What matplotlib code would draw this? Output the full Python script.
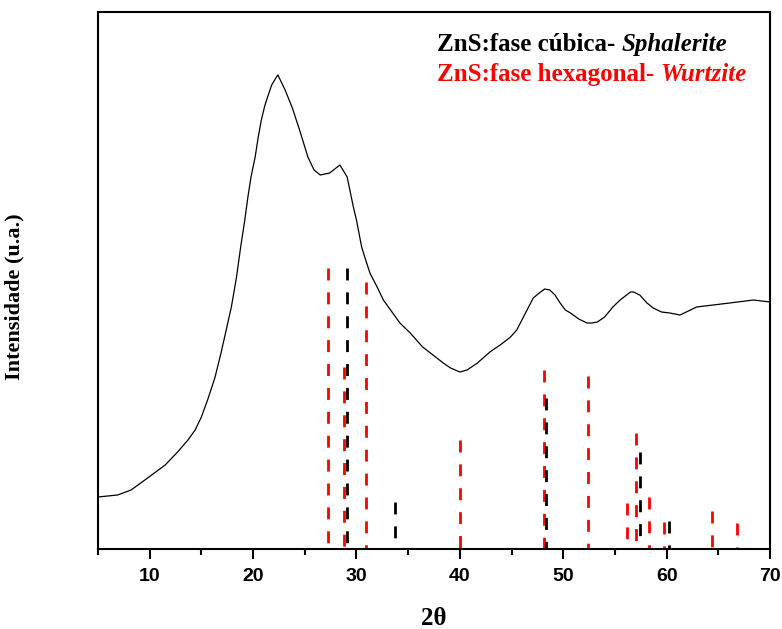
import numpy as np
import matplotlib.pyplot as plt

# XRD pattern (2theta, intensity in arbitrary units)
two_theta = [5.0, 6.9, 8.2, 9.8, 11.5, 12.7, 13.7, 14.4, 15.0, 15.6, 16.3, 16.9,
             17.4, 17.9, 18.4, 18.8, 19.2, 19.5, 19.8, 20.2, 20.5, 20.8, 21.1,
             21.4, 21.8, 22.2, 22.4, 23.1, 23.8, 24.5, 25.3, 25.9, 26.5, 27.4,
             28.4, 29.1, 29.7, 30.0, 30.5, 30.8, 31.3, 32.0, 32.6, 33.3, 34.2,
             35.2, 36.4, 37.4, 38.4, 39.1, 40.0, 40.7, 41.7, 42.9, 43.9, 44.9,
             45.5, 46.0, 46.5, 47.1, 47.8, 48.2, 48.7, 49.2, 49.7, 50.2, 50.7,
             51.5, 52.3, 52.8, 53.3, 54.0, 54.8, 55.5, 56.5, 56.8, 57.4, 58.1,
             58.7, 59.5, 60.3, 61.3, 61.9, 62.9, 64.5, 66.1, 68.4, 70.0]
intensity = [52, 54, 59, 71, 84, 97, 109, 119, 132, 149, 171, 196,
             219, 242, 272, 302, 329, 352, 372, 392, 412, 429, 442,
             452, 464, 471, 474, 459, 441, 419, 392, 379, 374, 376,
             384, 372, 342, 329, 302, 292, 276, 262, 249, 239, 226,
             216, 202, 194, 186, 181, 177, 179, 186, 197, 204, 212,
             219, 229, 239, 251, 257, 260, 259, 254, 246, 239, 236,
             230, 226, 226, 227, 232, 242, 249, 257, 257, 254, 246,
             241, 237, 236, 234, 237, 242, 244, 246, 249, 247]

# reference stick patterns
cubic_pos = [29.06, 33.7, 48.33, 57.4, 60.2]
cubic_h = [281, 47, 151, 97, 28]
hex_pos = [27.2, 28.83, 30.9, 40.0, 48.14, 52.37, 56.2, 57.07, 58.3, 59.7, 64.36, 66.84]
hex_h = [281, 182, 267, 109, 179, 173, 46, 116, 52, 27, 38, 26]

xticks = [10, 20, 30, 40, 50, 60, 70]

fig = plt.figure(figsize=(7.82, 6.29), dpi=100)
ax = fig.add_axes([0.1253, 0.1272, 0.8594, 0.8537])

ax.plot(two_theta, intensity, color='black', lw=0.9)

# sticks drawn from top down so the dash pattern starts at the top
for x, h in zip(hex_pos, hex_h):
    ax.plot([x, x], [h, 0], color='red', lw=2, dashes=(4.3, 4.3),
            solid_capstyle='butt', dash_capstyle='butt')
for x, h in zip(cubic_pos, cubic_h):
    ax.plot([x, x], [h, 0], color='black', lw=2, dashes=(4.3, 4.3),
            solid_capstyle='butt', dash_capstyle='butt')

ax.set_xlim(5, 70)
ax.set_ylim(0, 537)
ax.set_xticks(xticks)
ax.set_xticks(np.arange(5, 71, 5), minor=True)
ax.set_yticks([])
ax.tick_params(axis='x', which='major', direction='out', length=7.5, width=1.5, pad=6)
ax.tick_params(axis='x', which='minor', direction='out', length=4, width=1.5)
for lab in ax.get_xticklabels():
    lab.set_fontfamily('Liberation Sans')
    lab.set_fontweight('bold')
    lab.set_fontsize(14)
for s in ax.spines.values():
    s.set_linewidth(1.5)

ax.set_xlabel('2θ', fontfamily='Liberation Serif', fontweight='bold', fontsize=18)
ax.xaxis.set_label_coords(0.5, -0.108)
ax.set_ylabel('Intensidade (u.a.)', fontfamily='Liberation Serif', fontweight='bold', fontsize=16)
ax.yaxis.set_label_coords(-0.109, 0.469)

# legend-like annotations
tx = (437 - 98) / 672
t1 = ax.text(tx, (549 - 51) / 537, 'ZnS:fase cúbica- ', transform=ax.transAxes,
             fontfamily='Liberation Serif', fontweight='bold', fontsize=18,
             color='black', va='baseline')
ax.annotate('Sphalerite', xy=(1, 0), xycoords=t1, va='bottom', ha='left',
            fontfamily='Liberation Serif', fontweight='bold', fontstyle='italic',
            fontsize=18, color='black')
t2 = ax.text(tx, (549 - 81) / 537, 'ZnS:fase hexagonal- ', transform=ax.transAxes,
             fontfamily='Liberation Serif', fontweight='bold', fontsize=18,
             color='red', va='baseline')
ax.annotate('Wurtzite', xy=(1, 0), xycoords=t2, va='bottom', ha='left',
            fontfamily='Liberation Serif', fontweight='bold', fontstyle='italic',
            fontsize=18, color='red')

fig.savefig('out.png', dpi=100)
